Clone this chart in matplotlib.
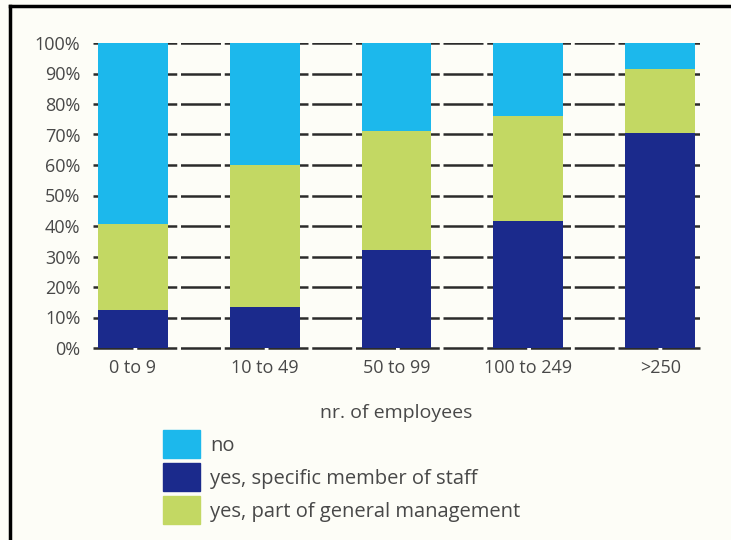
import matplotlib
matplotlib.use("Agg")
import matplotlib.pyplot as plt
from matplotlib.patches import Patch
from matplotlib.lines import Line2D
import numpy as np

categories = ["0 to 9", "10 to 49", "50 to 99", "100 to 249", ">250"]
staff = [12.5, 13.5, 32.0, 41.5, 70.5]
general = [28.0, 46.5, 39.0, 34.5, 21.0]
no = [59.5, 40.0, 29.0, 24.0, 8.5]
yticks = list(range(0, 101, 10))
ytick_labels = [f"{v}%" for v in yticks]

c_no = "#1cb8ec"
c_staff = "#1b2a8c"
c_gen = "#c3d863"
txt = "#484848"

plt.rcParams['font.family'] = ['Open Sans', 'DejaVu Sans']

fig = plt.figure(figsize=(7.31, 5.40), dpi=100, facecolor="#fdfdf7")
ax = fig.add_axes([93/731, 1-348/540, (700-93)/731, (348-43)/540])
ax.set_facecolor("none")

x = np.arange(len(categories))
w = 0.53
ax.bar(x, staff, w, color=c_staff, zorder=3)
ax.bar(x, general, w, bottom=staff, color=c_gen, zorder=3)
bottom2 = [a + b for a, b in zip(staff, general)]
ax.bar(x, no, w, bottom=bottom2, color=c_no, zorder=3)

ax.set_xlim(-0.3, 4.3)
ax.set_ylim(0, 100)
ax.set_yticks(yticks)
ax.set_yticklabels(ytick_labels)
ax.set_xticks(x)
ax.set_xticklabels(categories)
for v in yticks:
    ax.axhline(v, color="#2b2b2b", lw=1.8, ls=(0, (16, 1.5)), zorder=1, clip_on=(v != 0))
for s in ax.spines.values():
    s.set_visible(False)
ax.tick_params(axis='both', length=0, labelsize=13, colors=txt)
ax.tick_params(axis='y', pad=9)
ax.tick_params(axis='x', pad=8)
ax.set_xlabel("nr. of employees", fontsize=14, color=txt, labelpad=19)

handles = [Patch(color=c_no), Patch(color=c_staff), Patch(color=c_gen)]
labels = ["no", "yes, specific member of staff", "yes, part of general management"]
fig.legend(handles, labels, loc="upper left", bbox_to_anchor=(163/731, 1-430/540),
           frameon=False, fontsize=14.5, handlelength=1.84, handleheight=1.76,
           labelspacing=0.25, handletextpad=0.5, borderpad=0, borderaxespad=0,
           labelcolor=txt)

fig.add_artist(Line2D([10/731, 10/731], [0, 1-6/540], color="black", lw=2.5, transform=fig.transFigure))
fig.add_artist(Line2D([10/731, 1], [1-6/540, 1-6/540], color="black", lw=2.5, transform=fig.transFigure))

fig.savefig("out.png", dpi=100, facecolor=fig.get_facecolor())
